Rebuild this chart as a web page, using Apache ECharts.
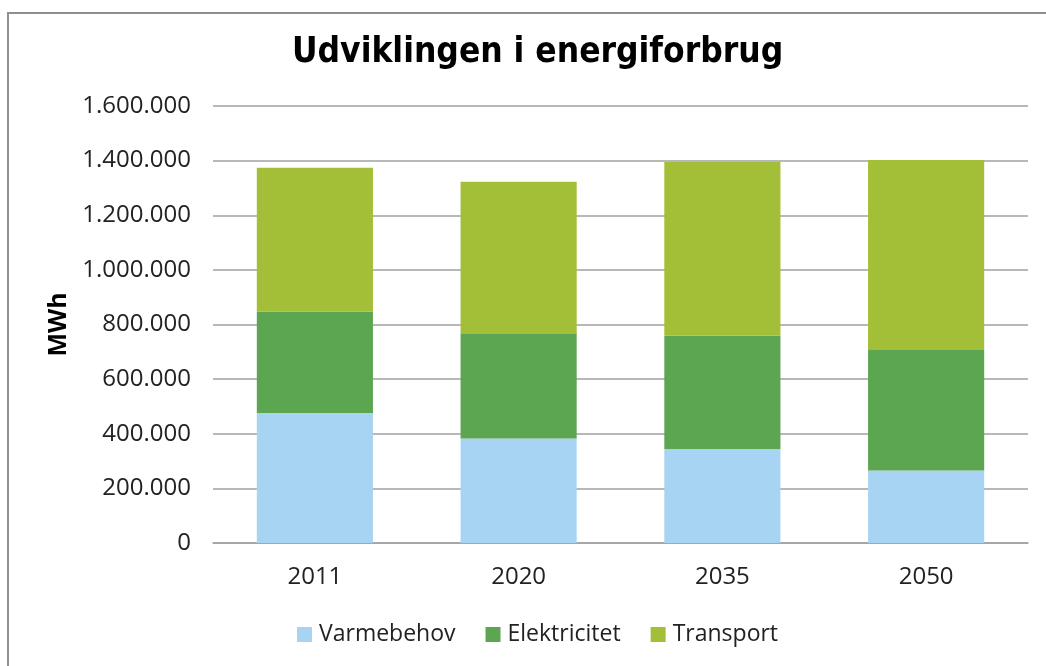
<!DOCTYPE html>
<html>
<head>
<meta charset="utf-8">
<script src="https://cdn.jsdelivr.net/npm/echarts@6/dist/echarts.min.js"></script>
<style>
  html, body { margin: 0; padding: 0; background: #fff; }
  #chart { width: 1046px; height: 666px; }
</style>
</head>
<body>
<div id="chart"></div>
<script>
// data (MWh)
var years = ['2011', '2020', '2035', '2050'];
var varmebehov = [476000, 383000, 344000, 265000];
var elektricitet = [372000, 385000, 415000, 444000];
var transport = [526000, 555000, 636000, 693000];
var seriesNames = ['Varmebehov', 'Elektricitet', 'Transport'];

var myChart = echarts.init(document.getElementById('chart'));

// tusindtalsseparator med punktum
function dkNumber(v) {
    return String(v).replace(/\B(?=(\d{3})+(?!\d))/g, '.');
}

var labelFont = '"Open Sans", "Noto Sans", sans-serif';

var option = {
    animation: false,
    backgroundColor: '#fff',
    color: ['#a8d4f4', '#5ca651', '#a2bf37'],
    graphic: [{
        type: 'rect',
        shape: { x: 8, y: 13, width: 1060, height: 680 },
        style: { fill: 'none', stroke: '#8f8f8f', lineWidth: 2 },
        silent: true
    }],
    title: {
        text: 'Udviklingen i energiforbrug',
        left: 287,
        top: 30,
        textStyle: {
            fontFamily: '"DejaVu Sans Condensed", "DejaVu Sans", sans-serif',
            fontWeight: 'bold',
            fontSize: 35,
            color: '#000'
        }
    },
    legend: {
        data: seriesNames,
        bottom: 15,
        left: 292,
        itemWidth: 15,
        itemHeight: 15,
        itemGap: 30,
        icon: 'rect',
        textStyle: { fontFamily: labelFont, fontSize: 23, color: '#222', padding: [0, 0, 0, 2] }
    },
    grid: {
        left: 213,
        right: 18,
        top: 106,
        bottom: 123,
        containLabel: false
    },
    xAxis: {
        type: 'category',
        data: years,
        axisLine: { lineStyle: { color: '#a0a0a0', width: 1.5 } },
        axisTick: { show: false },
        axisLabel: { fontFamily: labelFont, fontSize: 24, color: '#222', margin: 22 }
    },
    yAxis: {
        type: 'value',
        min: 0,
        max: 1600000,
        interval: 200000,
        name: 'MWh',
        nameLocation: 'middle',
        nameGap: 142,
        nameRotate: 90,
        nameTextStyle: { fontFamily: labelFont, fontWeight: 'bold', fontSize: 25, color: '#000' },
        axisLine: { show: false },
        axisTick: { show: false },
        splitLine: { lineStyle: { color: '#a0a0a0', width: 1.5 } },
        axisLabel: {
            fontFamily: labelFont,
            fontSize: 24,
            color: '#222',
            margin: 22,
            formatter: dkNumber
        }
    },
    series: [
        { name: seriesNames[0], type: 'bar', stack: 'total', data: varmebehov, barWidth: '57%' },
        { name: seriesNames[1], type: 'bar', stack: 'total', data: elektricitet, barWidth: '57%' },
        { name: seriesNames[2], type: 'bar', stack: 'total', data: transport, barWidth: '57%' }
    ]
};

myChart.setOption(option);
</script>
</body>
</html>
